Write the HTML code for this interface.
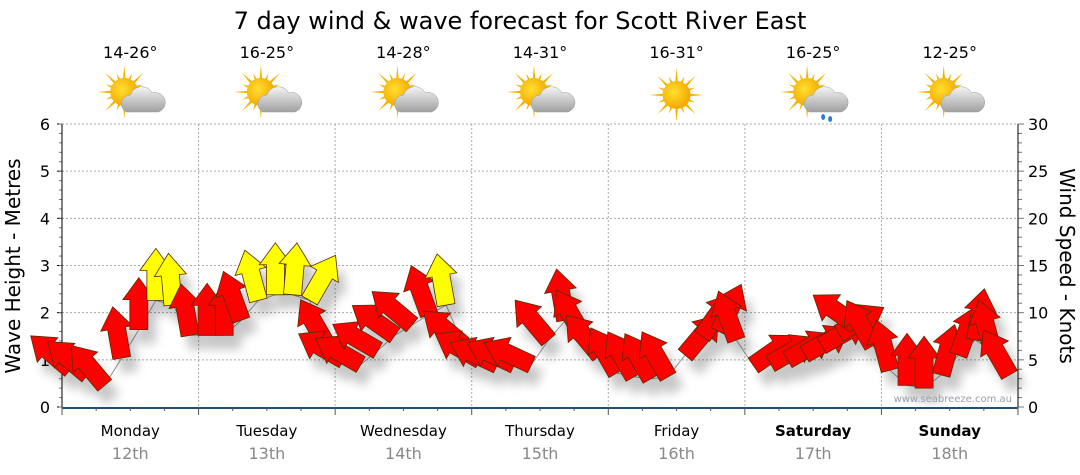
<!DOCTYPE html>
<html><head><meta charset="utf-8">
<style>
body{margin:0;background:#fff;width:1080px;height:475px;overflow:hidden;font-family:"DejaVu Sans","Liberation Sans",sans-serif}
svg{display:block}
</style></head><body>
<svg id="chart" width="1080" height="475" viewBox="0 0 1080 475" xmlns="http://www.w3.org/2000/svg">
<defs>
<filter id="sh" x="-50%" y="-50%" width="200%" height="200%"><feGaussianBlur stdDeviation="5"/></filter>
<radialGradient id="sunG" cx="40%" cy="40%" r="60%"><stop offset="0" stop-color="#ffe030"/><stop offset="1" stop-color="#f5a800"/></radialGradient>
<linearGradient id="cloudG" x1="0" y1="0" x2="0" y2="1"><stop offset="0" stop-color="#f4f4f4"/><stop offset="1" stop-color="#a0a0a0"/></linearGradient>
</defs>
<text x="520" y="29" font-size="24" text-anchor="middle" fill="#000">7 day wind &amp; wave forecast for Scott River East</text>
<g id="grid"></g>
<g id="axes"></g>
<g id="icons"></g>
<g id="marks"></g>
<text x="1012" y="402" font-size="10" text-anchor="end" fill="#9aa0a8">www.seabreeze.com.au</text>
</svg>
<script>
const days=["Monday","Tuesday","Wednesday","Thursday","Friday","Saturday","Sunday"];
const dates=["12th","13th","14th","15th","16th","17th","18th"];
const temps=["14-26°","16-25°","14-28°","14-31°","16-31°","16-25°","12-25°"];
const weather=["partly","partly","partly","partly","sun","rain","partly"];
const waveTicks=[0,1,2,3,4,5,6];
const windTicks=[0,5,10,15,20,25,30];
const windSpeed=[4,3.4,2.3,5.2,8.2,11.3,10.8,7.6, 7.6,7.6,9.2,11.3,11.9,11.9,11.3,6.6, 5,4.5,6,7.6,8.7,9.8,10.8,6.6, 5,4.5,4.5,4.5,7.1,9.2,7.6,5.5, 3.6,3.2,3,3.2,5.5,7.5,8,7.1, 4.4,4.6,5,5.6,6.5,7.8,8.7,6.5, 3.9,2.3,2,3.4,5.5,7.1,6,3.4];
const windDir=[-50,-50,-40,-10,0,0,-5,-10, 0,0,-20,-15,0,5,30,-30, -60,-60,-60,-55,-50,-20,-10,-50, -60,-65,-65,-65,-40,-10,-30,-40, -30,-30,-30,-30,40,35,25,-20, 55,60,60,60,60,60,-55,-30, -15,0,0,15,20,10,-15,-30];
const NS="http://www.w3.org/2000/svg";
const X0=62,X1=1018,Y0=407,Y1=124;
const dayW=(X1-X0)/days.length;
const yWave=v=>Y0-(v/6)*(Y0-Y1);
const yWind=v=>Y0-(v/30)*(Y0-Y1);
const xIdx=i=>X0+dayW*(i+0.5)/8;
function mk(tag,attrs,parent){const e=document.createElementNS(NS,tag);for(const k in attrs)e.setAttribute(k,attrs[k]);parent.appendChild(e);return e;}
const grid=document.getElementById('grid'),axes=document.getElementById('axes'),icons=document.getElementById('icons'),marks=document.getElementById('marks');
waveTicks.forEach(t=>{
  if(t>0){const g=mk('line',{x1:X0,x2:X1,y1:yWave(t),y2:yWave(t),stroke:'#aaa','stroke-dasharray':'2,2'},grid);
  
  }
  const l=mk('text',{x:50,y:yWave(t)+6,'font-size':16,'text-anchor':'end',fill:'#000'},axes);l.textContent=t;
  
  
  mk('line',{x1:X0-5,x2:X0,y1:yWave(t),y2:yWave(t),stroke:'#000'},axes);
});
for(let m=0;m<=30;m++){const y=Y0-m*(Y0-Y1)/30;mk('line',{x1:X0-3,x2:X0,y1:y,y2:y,stroke:'#777'},axes);mk('line',{x1:X1,x2:X1+(m%5?4:6),y1:y,y2:y,stroke:'#777'},axes);}
windTicks.forEach(t=>{const l=mk('text',{x:1028,y:yWind(t)+6,'font-size':16,fill:'#000'},axes);l.textContent=t;
  
  });
mk('line',{x1:X0,x2:X0,y1:Y1,y2:Y0,stroke:'#000'},axes);
mk('line',{x1:X1,x2:X1,y1:Y1,y2:Y0,stroke:'#000'},axes);
mk('line',{x1:X0,x2:X1,y1:Y0+1,y2:Y0+1,stroke:'#1f4e79','stroke-width':2},axes);
const lt=mk('text',{x:20,y:266,'font-size':20,'text-anchor':'middle',transform:'rotate(-90 20 266)'},axes);lt.textContent='Wave Height - Metres';


const rt=mk('text',{x:1060,y:266,'font-size':20,'text-anchor':'middle',transform:'rotate(90 1060 266)'},axes);rt.textContent='Wind Speed - Knots';


for(let k=0;k<=days.length*4;k++){const x=X0+k*dayW/4;mk('line',{x1:x,x2:x,y1:Y0,y2:Y0+(k%4?4:8),stroke:'#555'},axes);}
days.forEach((d,i)=>{
  const cx=X0+dayW*(i+0.5);
  if(i>0){const g=mk('line',{x1:X0+dayW*i,x2:X0+dayW*i,y1:Y1,y2:Y0,stroke:'#aaa','stroke-dasharray':'2,2'},grid);
  
  }
  const a=mk('text',{x:cx,y:436,'font-size':15,'text-anchor':'middle','font-weight':i>=5?'bold':'normal'},axes);a.textContent=d;
  
  
  const b=mk('text',{x:cx,y:459,'font-size':16,'text-anchor':'middle',fill:'#888'},axes);b.textContent=dates[i];
  
  
  const t=mk('text',{x:cx,y:58,'font-size':16,'text-anchor':'middle'},icons);t.textContent=temps[i];
  
  
  const sun=weather[i]==='sun';
  const g=mk('g',{transform:`translate(${cx-(sun?0:6)},${sun?95:92})`},icons);
  
  
  for(let r=0;r<16;r++){const ang=r*Math.PI/8,L=r%2?20:27;mk('path',{d:`M${Math.cos(ang+0.12)*12},${Math.sin(ang+0.12)*12} L${Math.cos(ang)*L},${Math.sin(ang)*L} L${Math.cos(ang-0.12)*12},${Math.sin(ang-0.12)*12}Z`,fill:'#f3b400'},g);}
  mk('circle',{cx:0,cy:0,r:14,fill:'url(#sunG)'},g);
  if(!sun){
    mk('path',{d:'M2,20 a9,9 0 0 1 4,-17 a12,12 0 0 1 22,-2 a9,9 0 0 1 6,19 z',fill:'url(#cloudG)',stroke:'#999','stroke-width':0.5},g);
    if(weather[i]==='rain'){mk('ellipse',{cx:16,cy:25,rx:2,ry:3,fill:'#2a7fd4'},g);mk('ellipse',{cx:23,cy:27,rx:2,ry:3,fill:'#2a7fd4'},g);}
  }
});
let pts=windSpeed.map((v,i)=>xIdx(i)+','+yWind(v)).join(' ');
const pl=mk('polyline',{points:pts,fill:'none',stroke:'#999','stroke-width':1},marks);


const arrowPath='M-9,0 L9,0 L9,-30 L16,-30 L0,-52 L-16,-30 L-9,-30 Z';
const shadows=mk('g',{filter:'url(#sh)',opacity:0.22},marks);
windSpeed.forEach((v,i)=>{mk('path',{d:arrowPath,fill:'#000',transform:`translate(${xIdx(i)+8},${yWind(v)+14}) rotate(${windDir[i]})`},shadows);});
windSpeed.forEach((v,i)=>{
  const p=mk('path',{d:arrowPath,fill:v>10.5?'#ffff00':'#ff0000',stroke:'#5a2a00','stroke-width':0.8,transform:`translate(${xIdx(i)},${yWind(v)}) rotate(${windDir[i]})`},marks);
  
  
});
</script>
</body></html>
